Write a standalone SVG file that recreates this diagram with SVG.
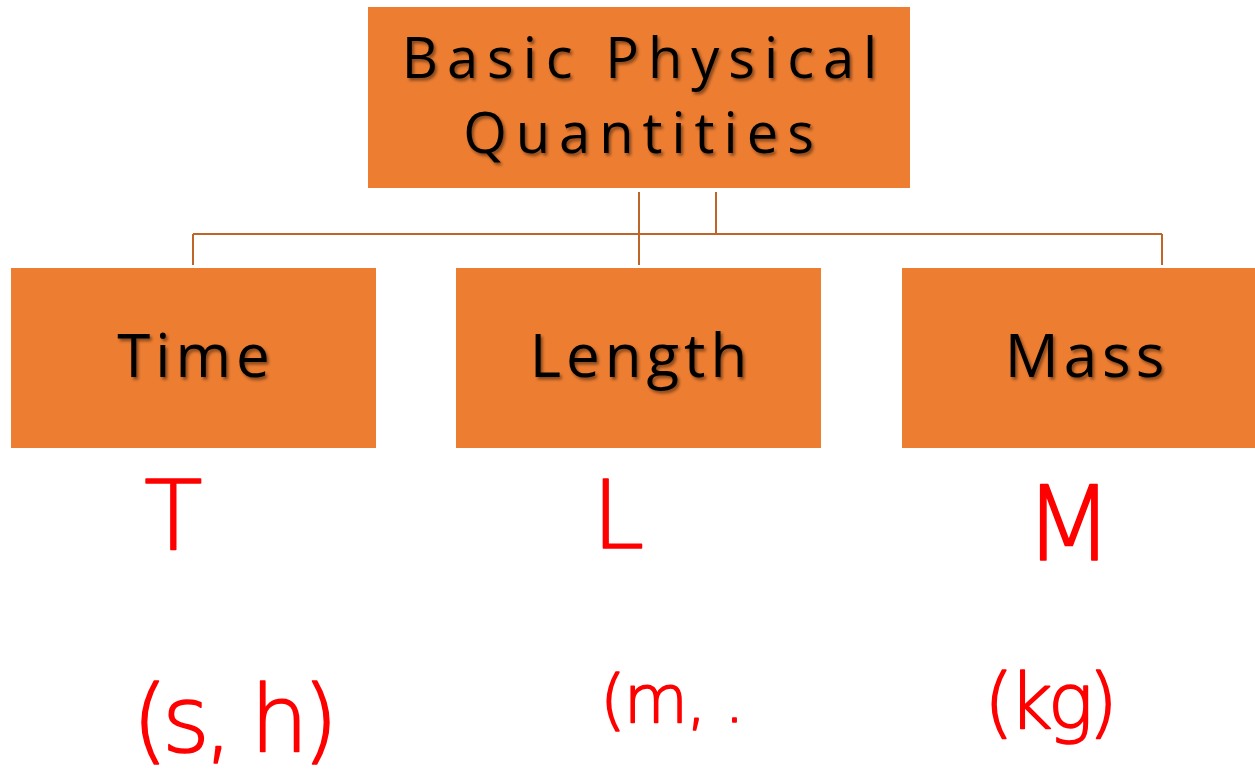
<svg xmlns="http://www.w3.org/2000/svg" width="1255" height="774" viewBox="0 0 1255 774">
<defs>
<filter id="sh" x="-10%" y="-10%" width="120%" height="130%">
<feDropShadow dx="2" dy="2.5" stdDeviation="1.5" flood-color="#000" flood-opacity="0.45"/>
</filter>
</defs>
<style>
.box{fill:#ED7D31;}
.lbl{font-family:"Open Sans","Noto Sans",sans-serif;fill:#000;text-anchor:middle;filter:url(#sh);}
.big{font-size:56px;letter-spacing:9px;}
.mid{font-size:60px;letter-spacing:5px;}
.conn{stroke:#C0652A;stroke-width:2;fill:none;}
.ink{font-family:"DejaVu Sans","Liberation Sans",sans-serif;font-weight:200;fill:#FF0000;stroke:#FF0000;stroke-width:1.6;stroke-linejoin:round;}
</style>
<rect width="1255" height="774" fill="#fff"/>
<g id="connectors">
<line class="conn" x1="639" y1="192" x2="639" y2="265"/>
<line class="conn" x1="716" y1="192" x2="716" y2="234"/>
<line class="conn" x1="193" y1="234" x2="1162" y2="234"/>
<line class="conn" x1="193" y1="234" x2="193" y2="265"/>
<line class="conn" x1="1162" y1="234" x2="1162" y2="265"/>
</g>
<g id="root">
<rect class="box" x="368" y="7" width="542" height="181"/>
<text class="lbl big" x="644" y="78">Basic Physical</text>
<text class="lbl big" x="643" y="153">Quantities</text>
</g>
<g id="time">
<rect class="box" x="11" y="268" width="365" height="180"/>
<text class="lbl mid" x="196" y="377">Time</text>
</g>
<g id="length">
<rect class="box" x="456" y="268" width="365" height="180"/>
<text class="lbl mid" x="641" y="377">Length</text>
</g>
<g id="mass">
<rect class="box" x="902" y="268" width="353" height="180"/>
<text class="lbl mid" x="1087" y="377">Mass</text>
</g>
<g id="annotations">
<text class="ink" x="144" y="549" font-size="96">T</text>
<text class="ink" x="592" y="548" font-size="94">L</text>
<text class="ink" x="1024" y="560" font-size="104">M</text>
<text class="ink" x="132" y="752" font-size="92" letter-spacing="-6">(s, h)</text>
<text class="ink" x="600" y="722" font-size="66" letter-spacing="-2">(m,  .</text>
<text class="ink" x="984" y="728" font-size="76" letter-spacing="-5">(kg)</text>
</g>
</svg>
